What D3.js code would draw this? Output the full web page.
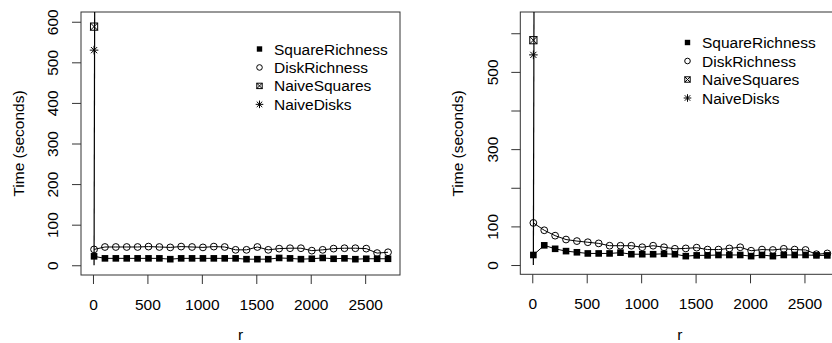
<!DOCTYPE html>
<html>
<head>
<meta charset="utf-8">
<script src="https://cdn.jsdelivr.net/npm/d3@7"></script>
<style>
  body { margin: 0; background: #fff; }
  svg { display: block; font-family: "Liberation Sans", Arial, sans-serif; }
  .tick text { font-size: 15.5px; fill: #000; }
  .tick line { stroke: #333; }
</style>
</head>
<body>
<svg id="canvas" width="832" height="343"></svg>
<script>
// r values (x) shared by both panels
var rValues = [10, 110, 210, 310, 410, 510, 610, 710, 810, 910, 1010, 1110, 1210, 1310,
               1410, 1510, 1610, 1710, 1810, 1910, 2010, 2110, 2210, 2310, 2410, 2510, 2610, 2710];

// left panel
var leftSquare = [22, 17, 17, 17, 17, 17, 17, 15, 17, 17, 17, 17, 17, 17,
                  15, 15, 15, 18, 17, 15, 16, 18, 16, 17, 15, 16, 16, 16];
var leftDisk = [39, 45, 45, 45, 45, 46, 45, 44, 46, 45, 44, 46, 45, 38,
                38, 45, 38, 41, 42, 42, 36, 38, 41, 42, 42, 41, 30, 32];
var leftNaiveSquares = [588];
var leftNaiveDisks = [530];
var leftSpike = [[10, 0], [16, 700]];

// right panel
var rightSquare = [26, 51, 42, 36, 33, 30, 30, 30, 32, 28, 28, 28, 29, 28,
                   23, 25, 25, 26, 26, 26, 23, 26, 23, 26, 26, 26, 25, 25];
var rightDisk = [109, 90, 76, 66, 62, 59, 56, 50, 50, 50, 46, 50, 46, 42,
                 43, 45, 40, 40, 43, 46, 37, 40, 39, 42, 40, 39, 28, 30];
var rightNaiveSquares = [582];
var rightNaiveDisks = [544];
var rightSpike = [[10, 0], [16, 700]];

var naiveR = [10];

var xTicks = [0, 500, 1000, 1500, 2000, 2500];
var leftYTicks = [0, 100, 200, 300, 400, 500, 600];
var leftYLabels = [0, 100, 200, 300, 400, 500, 600];
var rightYTicks = [0, 100, 200, 300, 400, 500, 600];
var rightYLabels = [0, 100, 300, 500];

var legendNames = ["SquareRichness", "DiskRichness", "NaiveSquares", "NaiveDisks"];
var legendShapes = ["square", "disk", "naivesq", "star"];

var fontSize = "15.5px";
var svg = d3.select("#canvas");

// draw one marker of a given shape at (0,0) of group g
function marker(g, shape, s) {
    if (shape === "square") {
        g.append("rect").attr("x", -s).attr("y", -s).attr("width", 2 * s).attr("height", 2 * s)
            .attr("fill", "#000");
    } else if (shape === "disk") {
        g.append("circle").attr("r", s).attr("fill", "none").attr("stroke", "#000").attr("stroke-width", 1);
    } else if (shape === "naivesq") {
        g.append("rect").attr("x", -s).attr("y", -s).attr("width", 2 * s).attr("height", 2 * s)
            .attr("fill", "none").attr("stroke", "#000").attr("stroke-width", 1);
        g.append("path").attr("d", "M" + (-s) + "," + (-s) + "L" + s + "," + s + "M" + (-s) + "," + s + "L" + s + "," + (-s))
            .attr("stroke", "#000").attr("stroke-width", 1);
    } else if (shape === "star") {
        var d = s * 0.72;
        g.append("path")
            .attr("d", "M" + (-s) + ",0L" + s + ",0M0," + (-s) + "L0," + s +
                       "M" + (-d) + "," + (-d) + "L" + d + "," + d + "M" + (-d) + "," + d + "L" + d + "," + (-d))
            .attr("stroke", "#000").attr("stroke-width", 1);
    }
}

function drawPanel(p) {
    var x = d3.scaleLinear().domain([-110, 2820]).range([p.x0, p.x0 + 319]);
    var y = d3.scaleLinear().domain(p.yDomain).range([p.y1, p.y0]);

    var clipId = "clip" + p.id;
    svg.append("clipPath").attr("id", clipId)
        .append("rect").attr("x", p.x0).attr("y", p.y0)
        .attr("width", 319).attr("height", p.y1 - p.y0);

    // x axis
    var xAxis = svg.append("g")
        .attr("transform", "translate(0," + p.y1 + ")")
        .call(d3.axisBottom(x).tickValues(xTicks).tickSize(9).tickFormat(d3.format("d")));
    xAxis.select(".domain").remove();
    xAxis.selectAll("text").attr("y", 34.5).attr("dy", null);

    // y axis, labels rotated like R
    var yAxis = svg.append("g")
        .attr("transform", "translate(" + p.x0 + ",0)")
        .call(d3.axisLeft(y).tickValues(p.yTicks).tickSize(9)
            .tickFormat(function(d) { return p.yLabels.indexOf(d) >= 0 ? d : ""; }));
    yAxis.select(".domain").remove();
    yAxis.selectAll("text")
        .attr("x", null).attr("dy", null)
        .attr("text-anchor", "middle")
        .attr("transform", "translate(-22.7,0) rotate(-90)");

    // box
    svg.append("rect")
        .attr("x", p.x0).attr("y", p.y0)
        .attr("width", 319).attr("height", p.y1 - p.y0)
        .attr("fill", "none").attr("stroke", "#333").attr("stroke-width", 1);

    // axis titles
    svg.append("text")
        .attr("transform", "translate(" + (p.x0 - 57.5) + "," + 143.5 + ") rotate(-90)")
        .attr("text-anchor", "middle")
        .style("font-size", fontSize)
        .text("Time (seconds)");
    svg.append("text")
        .attr("x", p.x0 + 159.5).attr("y", 340)
        .attr("text-anchor", "middle")
        .style("font-size", fontSize)
        .text("r");

    var plot = svg.append("g").attr("clip-path", "url(#" + clipId + ")");
    var line = d3.line().x(function(d) { return x(d[0]); }).y(function(d) { return y(d[1]); });

    // series lines
    [p.square, p.disk].forEach(function(vals) {
        plot.append("path")
            .datum(rValues.map(function(r, i) { return [r, vals[i]]; }))
            .attr("d", line)
            .attr("fill", "none").attr("stroke", "#000").attr("stroke-width", 1);
    });
    plot.append("path")
        .datum(p.spike)
        .attr("d", line)
        .attr("fill", "none").attr("stroke", "#000").attr("stroke-width", 1.2);

    // points
    function points(vals, rs, shape, s) {
        vals.forEach(function(v, i) {
            var g = plot.append("g").attr("transform", "translate(" + x(rs[i]) + "," + y(v) + ")");
            marker(g, shape, s);
        });
    }
    points(p.disk, rValues, "disk", 3.4);
    points(p.square, rValues, "square", 3.3);
    points(p.naiveSquares, naiveR, "naivesq", 3.6);
    points(p.naiveDisks, naiveR, "star", 4.3);

    // legend
    var leg = svg.append("g");
    legendNames.forEach(function(name, i) {
        var cy = p.legY + i * p.legStep;
        var g = leg.append("g").attr("transform", "translate(" + p.legX + "," + cy + ")");
        marker(g, legendShapes[i], legendShapes[i] === "star" ? 3.8 : (legendShapes[i] === "disk" ? 2.8 : 2.7));
        leg.append("text")
            .attr("x", p.legX + 14.5).attr("y", cy)
            .attr("dy", "0.36em")
            .style("font-size", fontSize)
            .text(name);
    });
}

drawPanel({
    id: "L", x0: 81, y0: 12, y1: 275, yDomain: [-24, 624],
    yTicks: leftYTicks, yLabels: leftYLabels,
    square: leftSquare, disk: leftDisk,
    naiveSquares: leftNaiveSquares, naiveDisks: leftNaiveDisks, spike: leftSpike,
    legX: 259.5, legY: 49, legStep: 18.45
});

drawPanel({
    id: "R", x0: 520.3, y0: 12, y1: 274.3, yDomain: [-24, 655],
    yTicks: rightYTicks, yLabels: rightYLabels,
    square: rightSquare, disk: rightDisk,
    naiveSquares: rightNaiveSquares, naiveDisks: rightNaiveDisks, spike: rightSpike,
    legX: 687.5, legY: 42.5, legStep: 18.5
});
</script>
</body>
</html>
